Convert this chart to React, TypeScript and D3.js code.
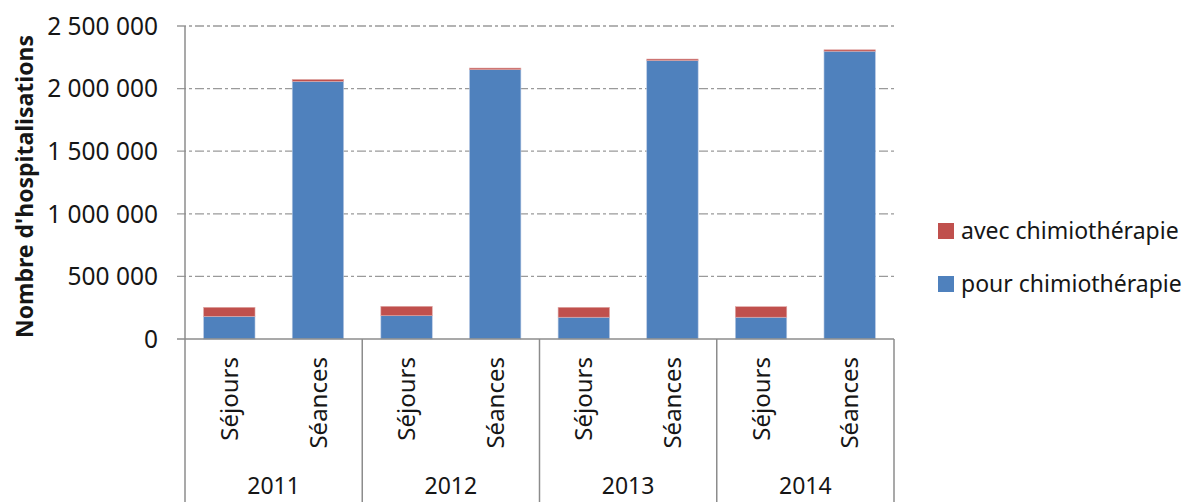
import React from "react";
import * as d3 from "d3";

const years = ["2011", "2012", "2013", "2014"];
const types = ["Séjours", "Séances"];
const seriesNames = ["pour chimiothérapie", "avec chimiothérapie"];
// values per year, per type
const pourSejours = [181000, 186000, 174000, 174000];
const avecSejours = [72000, 75000, 79000, 84000];
const pourSeances = [2058000, 2152000, 2225000, 2299000];
const avecSeances = [15000, 12000, 11000, 11000];
const yTicks = [0, 500000, 1000000, 1500000, 2000000, 2500000];
const colors = { pour: "#4F81BD", avec: "#C0504D" };

const W = 1195;
const H = 502;
const left = 185;
const right = 894;
const top = 26;
const bottom = 339;
const font = "'Noto Sans', 'Open Sans', sans-serif";
const textColor = "#161616";

type Row = { year: string; type: string; pour: number; avec: number };
const rows: Row[] = [];
years.forEach((y, i) => {
  rows.push({ year: y, type: types[0], pour: pourSejours[i], avec: avecSejours[i] });
  rows.push({ year: y, type: types[1], pour: pourSeances[i], avec: avecSeances[i] });
});

export default function App() {
  const y = d3.scaleLinear().domain([0, 2500000]).range([bottom, top]);
  const x0 = d3.scaleBand().domain(years).range([left, right]).paddingInner(0).paddingOuter(0);
  const x1 = d3.scaleBand().domain(types).range([0, x0.bandwidth()]).paddingInner(0.42).paddingOuter(0.21);
  const stack = d3.stack<Row>().keys(["pour", "avec"]);
  const stacked = stack(rows);
  const fmt = (v: number) => d3.format(",")(v).replace(/,/g, " ");

  return (
    <svg width={W} height={H} style={{ position: "absolute", left: 0, top: 0, background: "#fff" }}>
      {/* gridlines */}
      {yTicks.filter((t) => t > 0).map((t) => (
        <line key={t} x1={left - 8} x2={right} y1={y(t)} y2={y(t)} stroke="#9a9a9a" strokeWidth={1.3} strokeDasharray="9,3,3,3" />
      ))}
      {/* tick labels */}
      {yTicks.map((t) => (
        <text key={"l" + t} x={left - 27} y={y(t)} dy="0.36em" textAnchor="end" fontFamily={font} fontSize={24.5} fill={textColor}>
          {fmt(t)}
        </text>
      ))}
      {/* bars */}
      {stacked.map((s) => (
        <g key={s.key} fill={s.key === "pour" ? colors.pour : colors.avec}>
          {s.map((d, i) => (
            <rect
              key={i}
              x={(x0(d.data.year) as number) + (x1(d.data.type) as number)}
              y={y(d[1])}
              width={x1.bandwidth()}
              height={y(d[0]) - y(d[1])}
              stroke={s.key === "pour" ? "#b8c9e3" : "#e0a8a6"}
              strokeWidth={0.6}
            />
          ))}
        </g>
      ))}
      {/* axes */}
      <line x1={left} x2={left} y1={top} y2={H} stroke="#8c8c8c" strokeWidth={1.5} />
      <line x1={left - 8} x2={right} y1={bottom} y2={bottom} stroke="#8c8c8c" strokeWidth={1.5} />
      {years.map((yr) => (
        <line key={"sep" + yr} x1={(x0(yr) as number) + x0.bandwidth()} x2={(x0(yr) as number) + x0.bandwidth()} y1={bottom} y2={H} stroke="#8c8c8c" strokeWidth={1.5} />
      ))}
      {/* category labels */}
      {rows.map((r, i) => {
        const cx = (x0(r.year) as number) + (x1(r.type) as number) + x1.bandwidth() / 2;
        return (
          <text key={"c" + i} transform={`translate(${cx},357) rotate(-90)`} textAnchor="end" dy="0.36em" fontFamily={font} fontSize={24} fill={textColor}>
            {r.type}
          </text>
        );
      })}
      {years.map((yr) => (
        <text key={"y" + yr} x={(x0(yr) as number) + x0.bandwidth() / 2} y={494} textAnchor="middle" fontFamily={font} fontSize={23} fill={textColor}>
          {yr}
        </text>
      ))}
      {/* y axis title */}
      <text transform={`translate(25,${(33 + 340) / 2}) rotate(-90)`} textAnchor="middle" dy="0.36em" fontFamily={font} fontWeight="bold" fontSize={23} fill={textColor}>
        Nombre d'hospitalisations
      </text>
      {/* legend */}
      {[
        { name: seriesNames[1], color: colors.avec, yy: 231 },
        { name: seriesNames[0], color: colors.pour, yy: 284 },
      ].map((l) => (
        <g key={l.name}>
          <rect x={938} y={l.yy - 8} width={16} height={16} fill={l.color} />
          <text x={961} y={l.yy} dy="0.36em" fontFamily={font} fontSize={23} fill={textColor}>
            {l.name}
          </text>
        </g>
      ))}
    </svg>
  );
}
